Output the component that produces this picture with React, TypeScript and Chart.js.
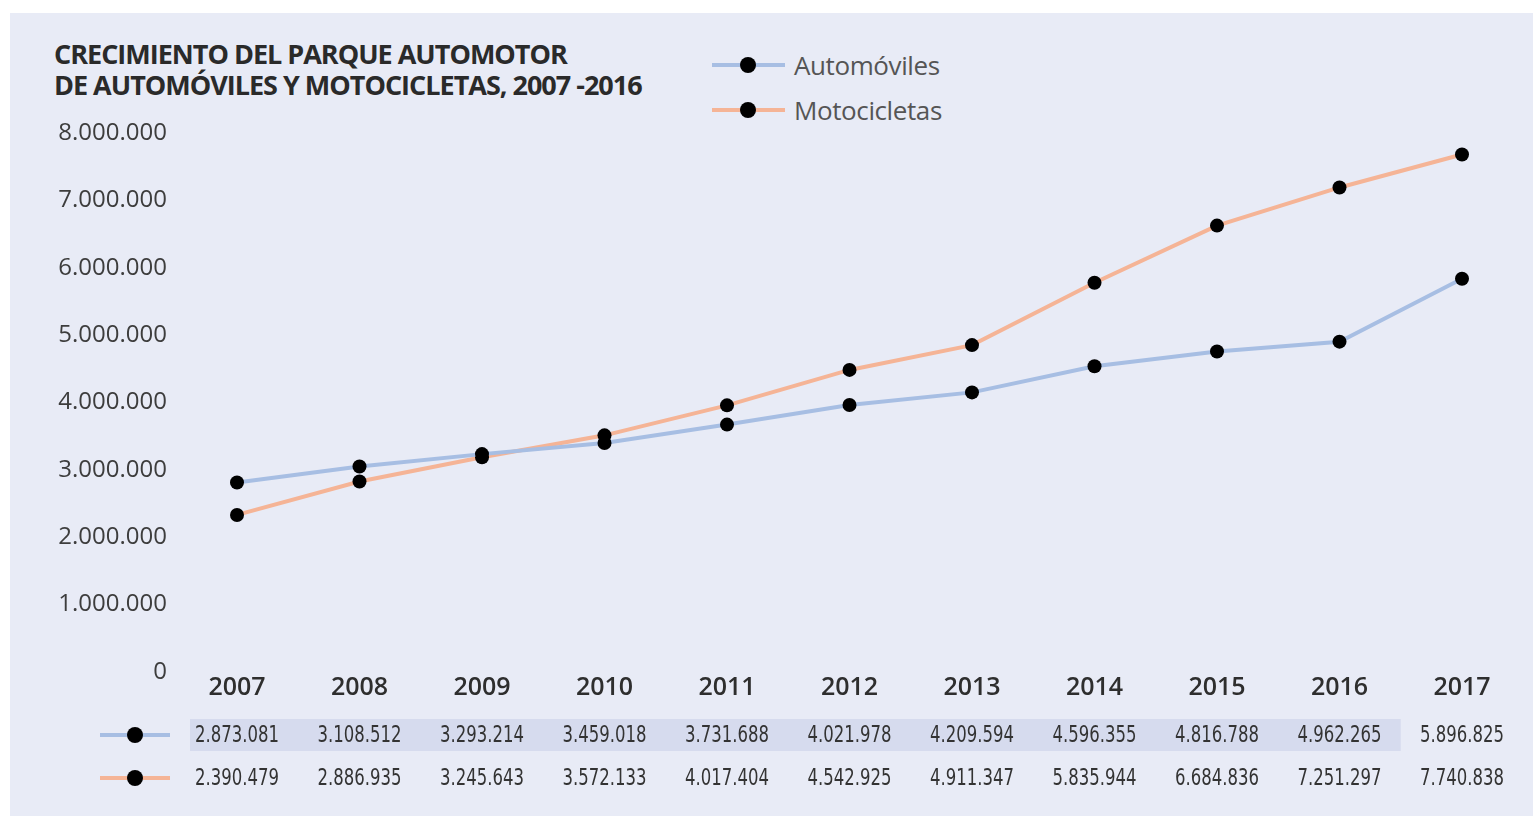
import React, { useEffect, useRef } from "react";
import { Chart, registerables } from "chart.js";

Chart.register(...registerables);

const years = ["2007", "2008", "2009", "2010", "2011", "2012", "2013", "2014", "2015", "2016", "2017"];
const automoviles = [2873081, 3108512, 3293214, 3459018, 3731688, 4021978, 4209594, 4596355, 4816788, 4962265, 5896825];
const motocicletas = [2390479, 2886935, 3245643, 3572133, 4017404, 4542925, 4911347, 5835944, 6684836, 7251297, 7740838];
const yMin = 0;
const yMax = 8000000;
const yStep = 1000000;
const titleLines = ["CRECIMIENTO DEL PARQUE AUTOMOTOR", "DE AUTOMÓVILES Y MOTOCICLETAS, 2007 -2016"];
const seriesNames = ["Automóviles", "Motocicletas"];

const BLUE = "#a7bee3";
const ORANGE = "#f5b496";
const PANEL = "#e8ebf6";
const BAND = "#d6dbee";

const fmt = (n: number) => String(Math.round(n)).replace(/\B(?=(\d{3})+(?!\d))/g, ".");

const NUM_FONT = "23px 'DejaVu Sans Condensed', 'Liberation Sans', sans-serif";

const tablePlugin = {
  id: "dataTable",
  afterDraw(chart: any) {
    const ctx = chart.ctx;
    const xs = chart.scales.x;
    const rows = [
      { values: automoviles, color: BLUE, y: 735, band: true },
      { values: motocicletas, color: ORANGE, y: 778, band: false },
    ];
    ctx.save();
    rows.forEach((row) => {
      if (row.band) {
        const left = xs.getPixelForValue(0) - 47;
        const right = (xs.getPixelForValue(years.length - 2) + xs.getPixelForValue(years.length - 1)) / 2;
        ctx.fillStyle = BAND;
        ctx.fillRect(left, row.y - 16, right - left, 32);
      }
      ctx.strokeStyle = row.color;
      ctx.lineWidth = 4;
      ctx.beginPath();
      ctx.moveTo(100, row.y);
      ctx.lineTo(170, row.y);
      ctx.stroke();
      ctx.fillStyle = "#000";
      ctx.beginPath();
      ctx.arc(135, row.y, 8, 0, Math.PI * 2);
      ctx.fill();
      ctx.font = NUM_FONT;
      ctx.fillStyle = "#333";
      ctx.textAlign = "center";
      ctx.textBaseline = "middle";
      row.values.forEach((v, i) => {
        ctx.fillText(fmt(v), xs.getPixelForValue(i), row.y + 1, 84);
      });
    });
    ctx.restore();
  },
};

export default function App() {
  const canvasRef = useRef<HTMLCanvasElement | null>(null);

  useEffect(() => {
    if (!canvasRef.current) return;
    const chart = new Chart(canvasRef.current, {
      type: "line",
      data: {
        labels: years,
        datasets: [
          {
            label: seriesNames[0],
            data: automoviles,
            borderColor: BLUE,
            borderWidth: 4,
            pointRadius: 7,
            pointBackgroundColor: "#000",
            pointBorderWidth: 0,
            tension: 0,
            clip: false as any,
          },
          {
            label: seriesNames[1],
            data: motocicletas,
            borderColor: ORANGE,
            borderWidth: 4,
            pointRadius: 7,
            pointBackgroundColor: "#000",
            pointBorderWidth: 0,
            tension: 0,
            clip: false as any,
          },
        ],
      },
      options: {
        responsive: false,
        animation: false,
        layout: { padding: { left: 0, right: 71, top: 137, bottom: 0 } },
        plugins: { legend: { display: false }, tooltip: { enabled: false }, title: { display: false } },
        scales: {
          x: {
            type: "category",
            offset: false,
            grid: { display: false, drawTicks: false },
            border: { display: false },
            ticks: {
              autoSkip: false,
              maxRotation: 0,
              padding: -3,
              color: "#2e2e2e",
              font: { family: "'Open Sans', sans-serif", size: 25, weight: "600" as any },
            },
            afterFit(scale: any) {
              scale.height = 140;
            },
          },
          y: {
            min: yMin,
            max: yMax,
            grid: { display: false, drawTicks: false },
            border: { display: false },
            ticks: {
              stepSize: yStep,
              padding: 70,
              labelOffset: -4,
              color: "#3d3d3d",
              font: { family: "'Open Sans', sans-serif", size: 24, weight: "400" as any },
              callback: (v: any) => fmt(Number(v)),
            },
            afterFit(scale: any) {
              scale.width = 237;
            },
          },
        },
      },
      plugins: [tablePlugin],
    });
    return () => chart.destroy();
  }, []);

  const legendItem = (name: string, color: string, top: number) => (
    <div key={name} style={{ position: "absolute", left: 712, top: top - 16, height: 32, width: 300 }}>
      <div style={{ position: "absolute", left: 0, top: 14, width: 73, height: 4, background: color }} />
      <div style={{ position: "absolute", left: 28, top: 8, width: 16, height: 16, borderRadius: 8, background: "#000" }} />
      <div
        style={{
          position: "absolute",
          left: 82,
          top: 0,
          lineHeight: "32px",
          fontFamily: "'Open Sans', sans-serif",
          fontSize: 26,
          color: "#555",
          letterSpacing: "-0.4px",
          whiteSpace: "nowrap",
        }}
      >
        {name}
      </div>
    </div>
  );

  return (
    <div style={{ position: "fixed", left: 0, top: 0, width: 1533, height: 816, background: "#fff", overflow: "hidden" }}>
      <div style={{ position: "absolute", left: 10, top: 13, right: 0, bottom: 0, background: PANEL }} />
      <div
        style={{
          position: "absolute",
          left: 54,
          top: 38,
          fontFamily: "'Open Sans', sans-serif",
          fontWeight: 700,
          fontSize: 27,
          lineHeight: "31px",
          color: "#2a2a2a",
          letterSpacing: "-1px",
          whiteSpace: "nowrap",
        }}
      >
        {titleLines.map((l) => (
          <div key={l}>{l}</div>
        ))}
      </div>
      {legendItem(seriesNames[0], BLUE, 65)}
      {legendItem(seriesNames[1], ORANGE, 110)}
      <canvas ref={canvasRef} width={1533} height={816} style={{ position: "absolute", left: 0, top: 0 }} />
    </div>
  );
}
